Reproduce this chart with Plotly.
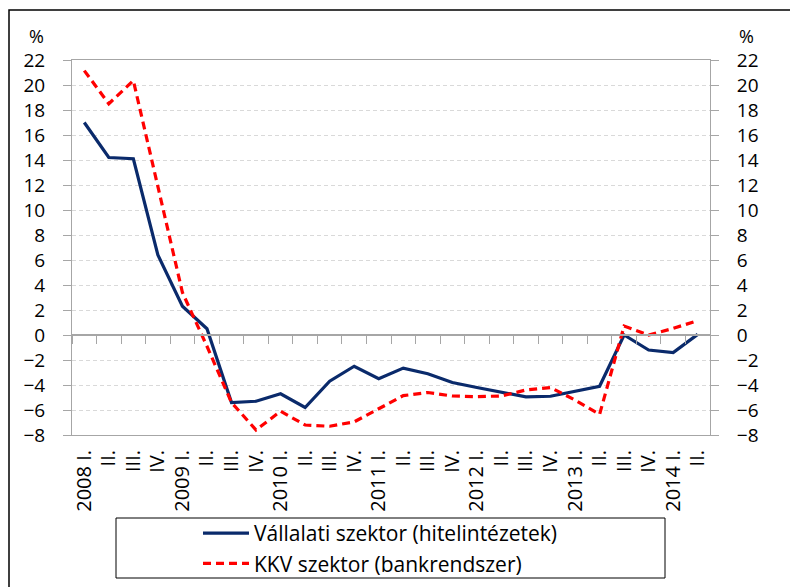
import plotly.graph_objects as go

quarters = ["2008 I.", "II.", "III.", "IV.",
            "2009 I.", "II.", "III.", "IV.",
            "2010 I.", "II.", "III.", "IV.",
            "2011 I.", "II.", "III.", "IV.",
            "2012 I.", "II.", "III.", "IV.",
            "2013 I.", "II.", "III.", "IV.",
            "2014 I.", "II."]

vallalati = [17.0, 14.2, 14.1, 6.4, 2.3, 0.5, -5.4, -5.3, -4.7, -5.8,
             -3.7, -2.5, -3.5, -2.65, -3.1, -3.8, -4.2, -4.6, -4.95, -4.9,
             -4.5, -4.1, 0.0, -1.2, -1.4, 0.05]

kkv = [21.15, 18.5, 20.35, 12.0, 3.4, -0.9, -5.4, -7.6, -6.1, -7.2,
       -7.3, -6.95, -5.9, -4.85, -4.6, -4.88, -4.93, -4.88, -4.4, -4.2,
       -5.2, -6.35, 0.72, 0.0, 0.53, 1.15]

name_vall = "Vállalati szektor (hitelintézetek)"
name_kkv = "KKV szektor (bankrendszer)"

y_ticks = list(range(-8, 23, 2))
y_range = [-8, 22]

x_idx = list(range(len(quarters)))
boundaries = [i - 0.5 for i in range(len(quarters) + 1)]

FONT = "Open Sans"
GRAY = "#A6A6A6"

# page has an 8px body margin; plot area in page pixels: x 72..710, y 60..435
def px(x):
    return (x - 72) / 638

def py(y):
    return (435 - y) / 375

fig = go.Figure()
fig.add_trace(go.Scatter(x=x_idx, y=vallalati, mode="lines", name=name_vall,
                         line=dict(color="#0A2A6B", width=3.2)))
fig.add_trace(go.Scatter(x=x_idx, y=kkv, mode="lines", name=name_kkv,
                         line=dict(color="#FF0000", width=3.2, dash="8px,5px")))
# helper trace for overlay axes (zero-line ticks and right axis)
fig.add_trace(go.Scatter(x=[None], y=[None], xaxis="x2", yaxis="y2",
                         showlegend=False, hoverinfo="skip"))

fig.update_layout(
    width=790, height=579,
    margin=dict(l=64, r=88, t=52, b=152, autoexpand=False),
    paper_bgcolor="white", plot_bgcolor="white",
    font=dict(family=FONT, size=18, color="black"),
    showlegend=True,
    legend=dict(x=px(198), y=py(513), xanchor="left", yanchor="top",
                font=dict(size=21, family=FONT), bgcolor="rgba(0,0,0,0)",
                borderwidth=0, tracegroupgap=0, itemwidth=46),
    xaxis=dict(range=[-0.5, 25.5], tickmode="array", tickvals=x_idx,
               ticktext=quarters, tickangle=-90, ticks="", showgrid=False,
               zeroline=False, showline=True, linecolor=GRAY, linewidth=1,
               mirror=True, ticklabelstandoff=6, tickfont=dict(size=20),
               automargin=False),
    xaxis2=dict(range=[-0.5, 25.5], overlaying="x", anchor="free",
                position=8 / 30, tickmode="array", tickvals=boundaries,
                ticks="outside", ticklen=8, tickcolor=GRAY, showticklabels=False,
                showgrid=False, zeroline=False, showline=True,
                linecolor=GRAY, linewidth=1.5, automargin=False),
    yaxis=dict(range=y_range, tickmode="array", tickvals=y_ticks,
               ticks="outside", ticklen=8, tickcolor=GRAY,
               showgrid=True, gridcolor="#D9D9D9", griddash="4px,3px",
               zeroline=False, showline=True, linecolor=GRAY, linewidth=1,
               mirror=True, ticklabelstandoff=14, tickfont=dict(size=19),
               automargin=False),
    yaxis2=dict(range=y_range, overlaying="y", side="right", anchor="x",
                tickmode="array", tickvals=y_ticks, ticks="outside",
                ticklen=8, tickcolor=GRAY, showgrid=False, zeroline=False,
                showline=False, ticklabelstandoff=14, tickfont=dict(size=19),
                automargin=False),
    shapes=[
        dict(type="rect", xref="paper", yref="paper",
             x0=px(9), x1=px(830), y0=py(620), y1=py(10),
             line=dict(color="black", width=1.5), fillcolor="rgba(0,0,0,0)",
             layer="below"),
        dict(type="rect", xref="paper", yref="paper",
             x0=px(116), x1=px(665), y0=py(578), y1=py(518),
             line=dict(color="black", width=1), fillcolor="white",
             layer="below"),
    ],
    annotations=[
        dict(text="%", xref="paper", yref="paper", x=px(36), y=py(36),
             xanchor="center", yanchor="middle",
             showarrow=False, font=dict(size=18)),
        dict(text="%", xref="paper", yref="paper", x=px(746), y=py(36),
             xanchor="center", yanchor="middle",
             showarrow=False, font=dict(size=18)),
    ],
)

fig.write_html("out.html")
